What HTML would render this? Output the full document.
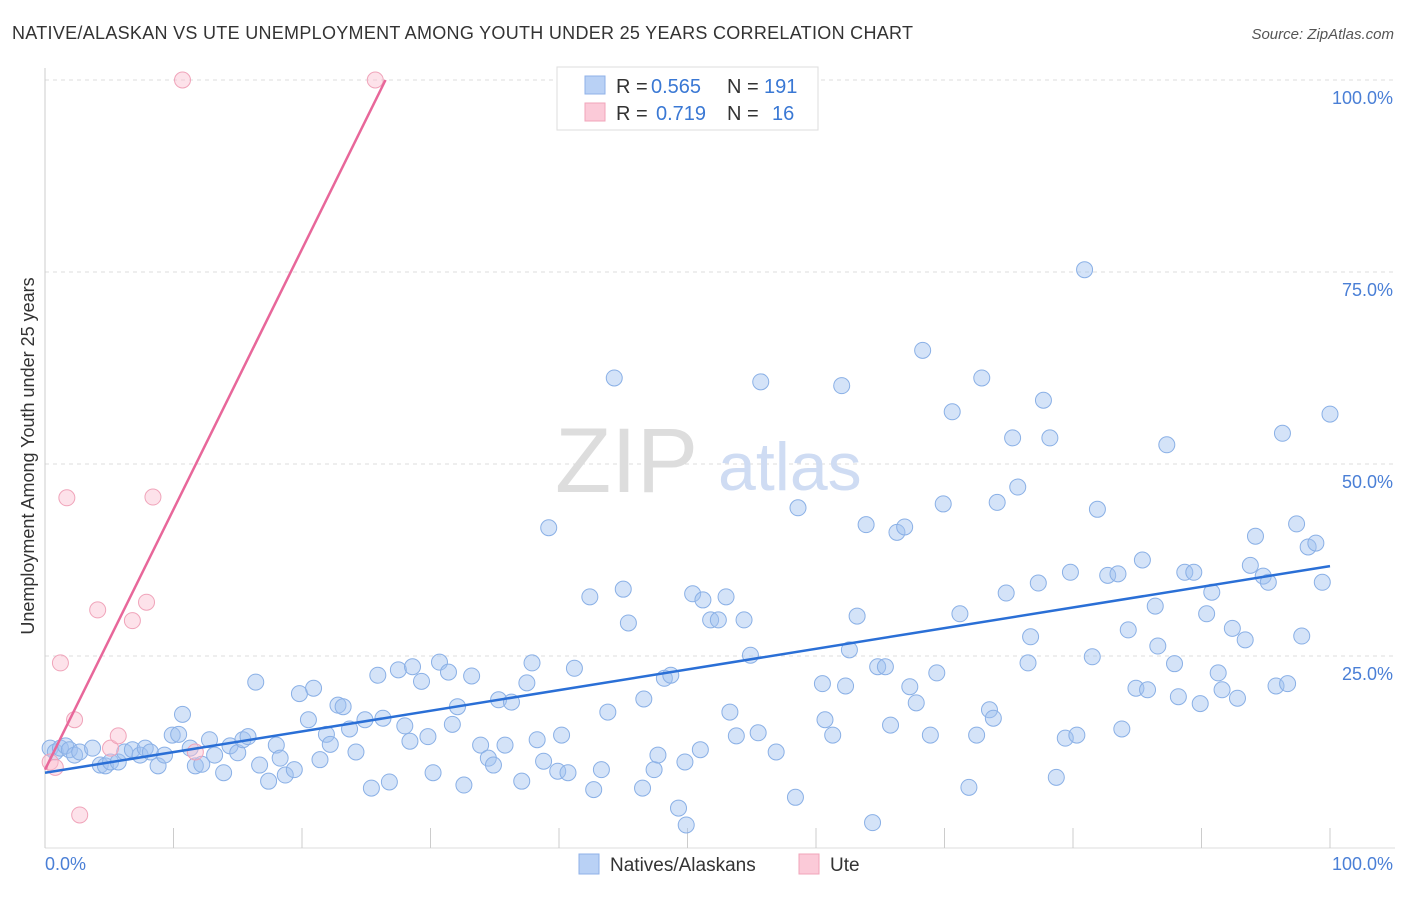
<!DOCTYPE html>
<html><head><meta charset="utf-8"><style>
body{margin:0;background:#fff;font-family:"Liberation Sans",sans-serif}
svg text{font-family:"Liberation Sans",sans-serif}
</style></head><body>
<svg id="chart" width="1406" height="892" viewBox="0 0 1406 892" xmlns="http://www.w3.org/2000/svg">
<text x="12" y="39" font-size="18" fill="#333" textLength="901" lengthAdjust="spacing">NATIVE/ALASKAN VS UTE UNEMPLOYMENT AMONG YOUTH UNDER 25 YEARS CORRELATION CHART</text>
<text x="1394" y="39" font-size="15" fill="#555" text-anchor="end" font-style="italic">Source: ZipAtlas.com</text>
<g id="grid"></g>
<g><text x="555" y="492" font-size="92" fill="#ddd" font-family="Liberation Serif">ZIP</text><text x="718" y="490" font-size="68" fill="#cfdcf3">atlas</text></g>
<g id="marks"></g>
<text transform="translate(34,456) rotate(-90)" font-size="18" fill="#333" text-anchor="middle">Unemployment Among Youth under 25 years</text>
<g>
<rect x="557" y="67" width="261" height="63" fill="#fff" stroke="#ddd"/>
<rect x="585" y="76" width="20" height="18" fill="#b9d1f5" stroke="#8fb1e8"/>
<rect x="585" y="103" width="20" height="18" fill="#fbcad8" stroke="#f0a4ba"/>
<text x="616" y="93" font-size="20" fill="#333">R =</text>
<text x="651" y="93" font-size="20" fill="#3a78d4">0.565</text>
<text x="727" y="93" font-size="20" fill="#333">N =</text>
<text x="764" y="93" font-size="20" fill="#3a78d4">191</text>
<text x="616" y="120" font-size="20" fill="#333">R =</text>
<text x="656" y="120" font-size="20" fill="#3a78d4">0.719</text>
<text x="727" y="120" font-size="20" fill="#333">N =</text>
<text x="772" y="120" font-size="20" fill="#3a78d4">16</text>
</g>
<g>
<rect x="579" y="854" width="20" height="20" fill="#b9d1f5" stroke="#8fb1e8"/>
<text x="610" y="871" font-size="19" fill="#333">Natives/Alaskans</text>
<rect x="799" y="854" width="20" height="20" fill="#fbcad8" stroke="#f0a4ba"/>
<text x="830" y="871" font-size="19" fill="#333">Ute</text>
</g>
</svg>
<script>
const blueX=[0.4,0.8,1.2,1.6,1.9,2.3,2.7,3.7,4.3,4.7,5.1,5.7,6.2,6.8,7.4,7.8,8.2,8.8,9.3,9.9,10.4,10.7,11.3,11.7,12.2,12.8,13.2,13.9,14.4,15.0,15.4,15.8,16.4,16.7,17.4,18.0,18.3,18.7,19.4,19.8,20.5,20.9,21.4,21.9,22.2,22.8,23.2,23.7,24.2,24.9,25.4,25.9,26.3,26.8,27.5,28.0,28.4,28.6,29.3,29.8,30.2,30.7,31.4,31.7,32.1,32.6,33.2,33.9,34.5,34.9,35.3,35.8,36.3,37.1,37.5,37.9,38.3,38.8,39.2,39.9,40.2,40.7,41.2,42.4,42.7,43.3,43.8,44.3,45.0,45.4,46.5,46.6,47.4,47.7,48.2,48.7,49.3,49.9,49.8,50.4,51.0,51.2,51.8,52.4,53.0,53.3,53.8,54.4,54.9,55.5,55.7,56.9,58.4,58.6,60.5,60.7,61.3,62.0,62.3,62.6,63.2,63.9,64.4,64.8,65.4,65.8,66.3,66.9,67.3,67.8,68.3,68.9,69.4,69.9,70.6,71.2,71.9,72.5,72.9,73.5,73.8,74.1,74.8,75.3,75.7,76.7,76.5,77.3,77.7,78.2,78.7,79.4,79.8,80.3,80.9,81.5,81.9,82.7,83.5,83.8,84.3,84.9,85.4,85.8,86.4,86.6,87.3,87.9,88.2,88.7,89.4,89.9,90.4,90.8,91.3,91.6,92.4,92.8,93.4,93.8,94.2,94.8,95.2,95.8,96.3,96.7,97.4,97.8,98.3,98.9,99.4,100.0];
const blueY=[13.0,12.5,13.0,13.3,12.8,12.1,12.5,13.0,10.8,10.7,11.2,11.2,12.5,12.8,12.1,13.0,12.5,10.7,12.1,14.7,14.8,17.4,13.0,10.7,10.9,14.1,12.1,9.8,13.3,12.4,14.1,14.5,21.6,10.8,8.7,13.4,11.7,9.5,10.2,20.1,16.7,20.8,11.5,14.8,13.5,18.6,18.4,15.5,12.5,16.7,7.8,22.5,16.9,8.6,23.2,15.9,13.9,23.6,21.7,14.5,9.8,24.2,22.9,16.1,18.4,8.2,22.4,13.4,11.7,10.8,19.3,13.4,19.0,8.7,21.5,24.1,14.1,11.3,41.7,10.0,14.7,9.8,23.4,32.7,7.6,10.2,17.7,61.2,33.7,29.3,7.8,19.4,10.2,12.1,22.1,22.5,5.2,3.0,11.2,33.1,12.8,32.3,29.7,29.7,32.7,17.7,14.6,29.7,25.1,15.0,60.7,12.5,6.6,44.3,21.4,16.7,14.7,60.2,21.1,25.8,30.2,42.1,3.3,23.6,23.6,16.0,41.1,41.8,21.0,18.9,64.8,14.7,22.8,44.8,56.8,30.5,7.9,14.7,61.2,18.0,16.9,45.0,33.2,53.4,47.0,27.5,24.1,34.5,58.3,53.4,9.2,14.3,35.9,14.7,75.3,24.9,44.1,35.5,35.7,15.5,28.4,20.8,37.5,20.6,31.5,26.3,52.5,24.0,19.7,35.9,35.9,18.8,30.5,33.3,22.8,20.6,28.6,19.5,27.1,36.8,40.6,35.4,34.6,21.1,54.0,21.4,42.2,27.6,39.2,39.7,34.6,56.5];
const uteX=[0.4,0.8,1.2,1.7,2.3,2.7,4.1,5.1,5.7,6.8,7.9,8.4,10.7,11.7,25.7];
const uteY=[11.2,10.5,24.1,45.6,16.7,4.3,31.0,13.0,14.6,29.6,32.0,45.7,100,12.5,100];
const blueTrend=[0,9.8,100,36.7];
const uteTrend=[0,10.2,26.5,100];
const yTicks=[25,50,75,100];
const xTicks=[0,10,20,30,40,50,60,70,80,90,100];

const X0=45,X1=1330,Y0=848,Y1=80;
const sx=v=>X0+(X1-X0)*v/100, sy=v=>Y0-(Y0-Y1)*v/100;
const NS='http://www.w3.org/2000/svg';
function mk(tag,attrs,parent){const e=document.createElementNS(NS,tag);for(const k in attrs)e.setAttribute(k,attrs[k]);parent.appendChild(e);return e;}
const grid=document.getElementById('grid'), marks=document.getElementById('marks'), svg=document.getElementById('chart');
yTicks.forEach(t=>{
  const l=mk('line',{x1:X0,x2:1395,y1:sy(t),y2:sy(t),stroke:'#ddd','stroke-dasharray':'4,4'},grid);
  
  
  const tx=mk('text',{x:1393,y:sy(t)+24,'font-size':18,fill:'#4a7fd6','text-anchor':'end'},svg);
  tx.textContent=t.toFixed(1)+'%';
  
  
});
const ax=mk('line',{x1:X0,x2:X0,y1:68,y2:Y0,stroke:'#ccc'},grid);


const bx=mk('line',{x1:X0,x2:1395,y1:Y0,y2:Y0,stroke:'#ddd'},grid);


xTicks.forEach(t=>{
  const l=mk('line',{x1:sx(t),x2:sx(t),y1:828,y2:Y0,stroke:'#ccc'},grid);
  
  
});
[[0,'start',45],[100,'end',1393]].forEach(([v,a,x])=>{
  const tx=mk('text',{x:x,y:870,'font-size':18,fill:'#4a7fd6','text-anchor':a},svg);
  tx.textContent=v.toFixed(1)+'%';
  
  
});
blueX.forEach((v,i)=>{
  const c=mk('circle',{cx:sx(v),cy:sy(blueY[i]),r:8,fill:'rgba(160,193,240,0.45)',stroke:'#8ab0e6','stroke-width':1},marks);
  
  
});
uteX.forEach((v,i)=>{
  const c=mk('circle',{cx:sx(v),cy:sy(uteY[i]),r:8,fill:'rgba(250,190,208,0.45)',stroke:'#f0a4ba','stroke-width':1},marks);
  
  
});
const bl=mk('line',{x1:sx(blueTrend[0]),y1:sy(blueTrend[1]),x2:sx(blueTrend[2]),y2:sy(blueTrend[3]),stroke:'#2a6fd6','stroke-width':2.5},marks);


const ul=mk('line',{x1:sx(uteTrend[0]),y1:sy(uteTrend[1]),x2:sx(uteTrend[2]),y2:sy(uteTrend[3]),stroke:'#e8679a','stroke-width':2.5},marks);


</script>
</body></html>
